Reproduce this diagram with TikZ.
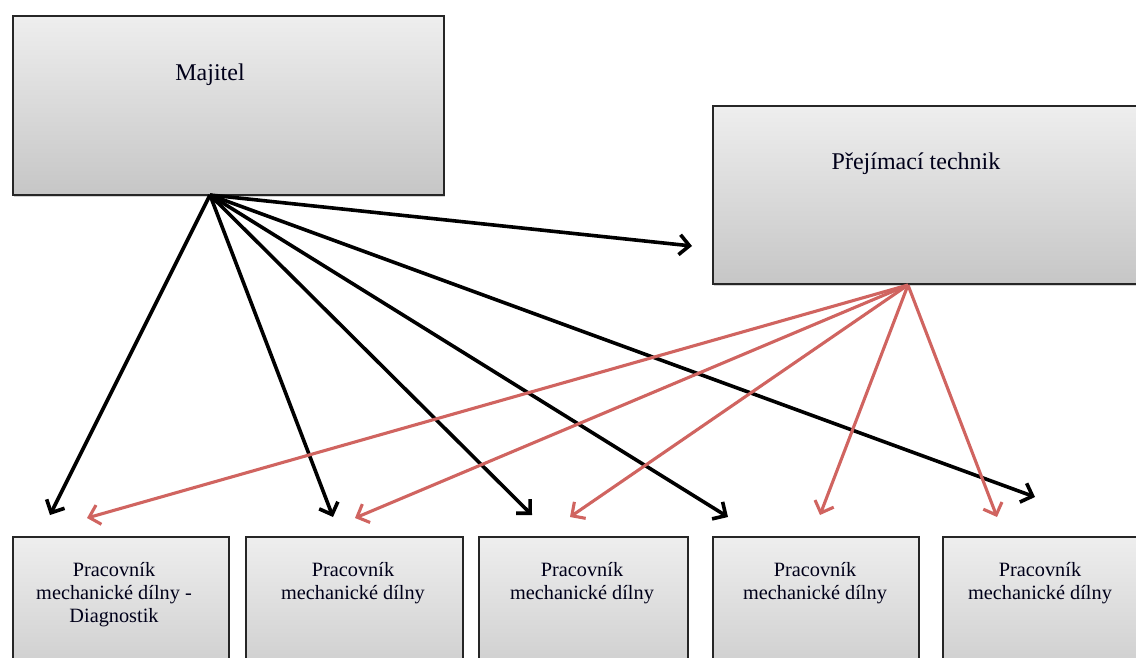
\documentclass[tikz,border=0pt]{standalone}
\usepackage{fontspec}
\setmainfont{Liberation Serif}
\usetikzlibrary{arrows.meta,shadows}
\definecolor{redarr}{RGB}{208,100,96}
\definecolor{boxtop}{RGB}{238,238,238}
\definecolor{boxbot}{RGB}{198,198,198}
\tikzset{
  box/.style={draw=black!85, line width=2.2pt, top color=boxtop, bottom color=boxbot,
    rectangle, inner sep=0pt, anchor=north west,
    drop shadow={opacity=0.35, shadow xshift=1pt, shadow yshift=-2pt}},
  toplabel/.style={font=\fontsize{24}{28}\selectfont, text=black!90!blue, inner sep=0pt},
  botlabel/.style={font=\fontsize{20.3}{23}\selectfont, text=black!90!blue, align=center, inner sep=0pt, anchor=north},
  blackarr/.style={draw=black, line width=3.6pt, -{Straight Barb[length=10pt,width=20pt]}},
  redarr/.style={draw=redarr, line width=3.1pt, -{Straight Barb[length=10pt,width=20pt]}},
}
\begin{document}
\begin{tikzpicture}[x=1pt,y=-1pt]
\useasboundingbox (0,0) rectangle (1136,657);
\clip (0,0) rectangle (1136,657);
% boxes
\node[box, minimum width=431pt, minimum height=179pt] (maj) at (12,15) {};
\node[box, minimum width=440pt, minimum height=178pt] (tech) at (712,105) {};
\node[box, minimum width=216pt, minimum height=170pt] (w1) at (12,536) {};
\node[box, minimum width=217pt, minimum height=170pt] (w2) at (245,536) {};
\node[box, minimum width=209pt, minimum height=170pt] (w3) at (478,536) {};
\node[box, minimum width=206pt, minimum height=170pt] (w4) at (712,536) {};
\node[box, minimum width=210pt, minimum height=170pt] (w5) at (942,536) {};
% labels
\node[toplabel] (tmaj) at (210,75) {Majitel};
\node[toplabel] (ttech) at (916,164) {Přejímací technik};
\node[botlabel] (tw1) at (114,562) {Pracovník\\mechanické dílny -\\Diagnostik};
\node[botlabel] (tw2) at (353,562) {Pracovník\\mechanické dílny};
\node[botlabel] (tw3) at (582,562) {Pracovník\\mechanické dílny};
\node[botlabel] (tw4) at (815,562) {Pracovník\\mechanické dílny};
\node[botlabel] (tw5) at (1040,562) {Pracovník\\mechanické dílny};
% connector ends
\coordinate (mo) at (210,195);
\coordinate (to) at (908,285);
\coordinate (b1) at (50,515);
\coordinate (b2) at (333,517);
\coordinate (b3) at (532,515);
\coordinate (b4) at (728,517);
\coordinate (b5) at (1035,497);
\coordinate (bt) at (692,246);
\coordinate (r1) at (87,518);
\coordinate (r2) at (355,518);
\coordinate (r3) at (570,517);
\coordinate (r4) at (820,515);
\coordinate (r5) at (997,517);
% black arrows
\foreach \t in {b1,b2,b3,b4,b5,bt} \draw[blackarr] (mo) -- (\t);
% red arrows
\foreach \t in {r1,r2,r3,r4,r5} \draw[redarr] (to) -- (\t);
\end{tikzpicture}
\end{document}
